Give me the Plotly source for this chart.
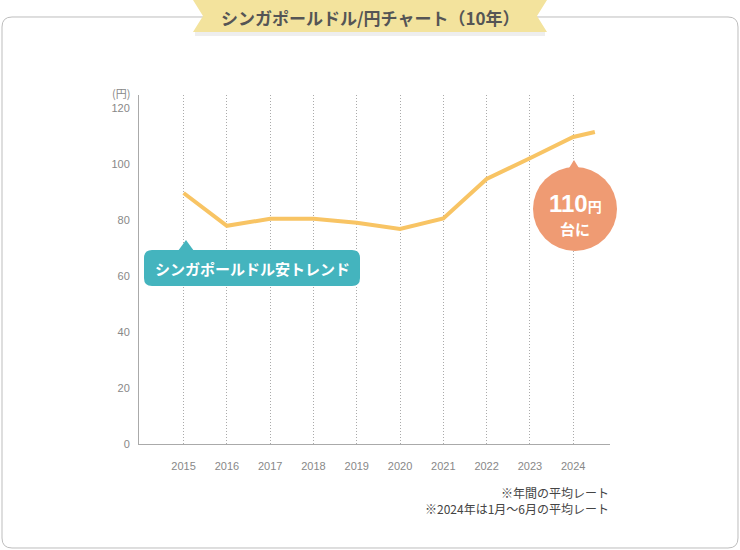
import plotly.graph_objects as go

# yearly average SGD/JPY rate
years = [2015, 2016, 2017, 2018, 2019, 2020, 2021, 2022, 2023, 2024, 2024.5]
rates = [89.6, 77.9, 80.4, 80.4, 79.0, 76.8, 80.5, 94.6, 102.0, 109.6, 111.4]
year_ticks = [2015, 2016, 2017, 2018, 2019, 2020, 2021, 2022, 2023, 2024]
y_ticks = [0, 20, 40, 60, 80, 100, 120]

TITLE = "シンガポールドル/円チャート（10年）"
NOTES = ["※年間の平均レート", "※2024年は1月〜6月の平均レート"]

W, H = 740, 550
L, R, T, B = 139, 130, 95, 106
PW, PH = W - L - R, H - T - B

FONT = "Liberation Sans, Noto Sans CJK JP, sans-serif"
JP = "Noto Sans CJK JP, sans-serif"


def px(x):
    return (x - L) / PW


def py(y):
    return (H - B - y) / PH


def poly(points):
    s = "M " + " L ".join(f"{px(x):.5f},{py(y):.5f}" for x, y in points)
    return s + " Z"


def rrect(x0, y0, x1, y1, r):
    p = lambda x, y: f"{px(x):.5f},{py(y):.5f}"
    return (f"M {p(x0 + r, y0)} L {p(x1 - r, y0)} Q {p(x1, y0)} {p(x1, y0 + r)} "
            f"L {p(x1, y1 - r)} Q {p(x1, y1)} {p(x1 - r, y1)} "
            f"L {p(x0 + r, y1)} Q {p(x0, y1)} {p(x0, y1 - r)} "
            f"L {p(x0, y0 + r)} Q {p(x0, y0)} {p(x0 + r, y0)} Z")


fig = go.Figure()
fig.add_trace(go.Scatter(
    x=years, y=rates, mode="lines",
    line=dict(color="#f8c464", width=4),
    hoverinfo="skip", showlegend=False,
))

shapes = [
    # outer frame
    dict(type="path", path=rrect(2, 17, 738, 548, 10),
         line=dict(color="#bdbdbd", width=1), fillcolor="rgba(0,0,0,0)", layer="below"),
    # banner shadow + banner
    dict(type="path", path=poly([(195, 31), (545, 31), (545, 36), (195, 36)]),
         line=dict(width=0), fillcolor="#eeeeee"),
    dict(type="path", path=poly([(193, 0), (547, 0), (537, 16), (547, 32), (193, 32), (203, 16)]),
         line=dict(width=0), fillcolor="#f3e39d"),
    # teal callout
    dict(type="path", path=rrect(144, 250, 360, 286, 8),
         line=dict(width=0), fillcolor="#44b4be"),
    dict(type="path", path=poly([(178, 251), (186, 240), (194, 251)]),
         line=dict(width=0), fillcolor="#44b4be"),
    # orange bubble
    dict(type="circle", x0=px(533), x1=px(617), y0=py(251), y1=py(167),
         xref="paper", yref="paper", line=dict(width=0), fillcolor="#ef9b73"),
    dict(type="path", path=poly([(566, 173), (574, 160), (582, 173)]),
         line=dict(width=0), fillcolor="#ef9b73"),
]
for s in shapes:
    s.setdefault("xref", "paper")
    s.setdefault("yref", "paper")

annotations = [
    dict(x=px(370), y=py(17), text=f"<b>{TITLE}</b>",
         font=dict(family=JP, size=17, color="#555555")),
    dict(x=px(252), y=py(268), text="<b>シンガポールドル安トレンド</b>",
         font=dict(family=JP, size=15, color="white")),
    dict(x=px(575), y=py(203),
         text="<b>110<span style='font-size:14px'>円</span></b>",
         font=dict(family=FONT, size=24, color="white")),
    dict(x=px(575), y=py(228), text="<b>台に</b>",
         font=dict(family=JP, size=15, color="white")),
    dict(x=px(132), y=py(93), text="(円)", xanchor="right",
         font=dict(family=JP, size=11, color="#888888")),
    dict(x=px(611), y=py(500), text="<br>".join(NOTES), xanchor="right", align="right",
         font=dict(family=JP, size=12, color="#444444")),
]
for a in annotations:
    a.update(xref="paper", yref="paper", showarrow=False)
    a.setdefault("xanchor", "center")
    a.setdefault("yanchor", "middle")

fig.update_layout(
    width=W, height=H,
    margin=dict(l=L, r=R, t=T, b=B),
    paper_bgcolor="white", plot_bgcolor="white",
    font=dict(family=FONT, size=11, color="#888888"),
    shapes=shapes, annotations=annotations,
    xaxis=dict(
        range=[2013.97, 2024.85], tickvals=year_ticks,
        showgrid=True, gridcolor="#aaaaaa", griddash="1px,2px", gridwidth=1,
        showline=True, linecolor="#aaaaaa", linewidth=1,
        zeroline=False, ticks="", ticklabelstandoff=12, fixedrange=True,
    ),
    yaxis=dict(
        range=[0, 124.6], tickvals=y_ticks,
        showgrid=False, zeroline=False,
        showline=True, linecolor="#aaaaaa", linewidth=1,
        ticks="", ticklabelstandoff=6, fixedrange=True,
    ),
)

# the page body has a default 8px margin; drop it so the figure sits at 0,0
fig.write_html("out.html", config={"displayModeBar": False},
               post_script="document.body.style.margin='0';")
